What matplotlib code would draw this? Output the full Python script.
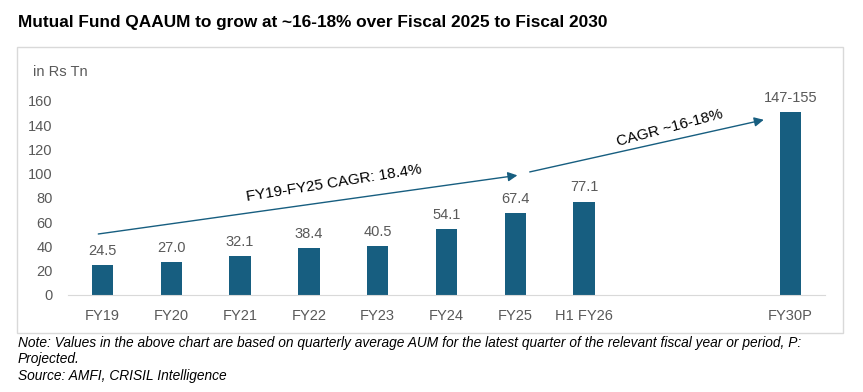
import matplotlib.pyplot as plt
from matplotlib.patches import Rectangle

plt.rcParams['font.family'] = ['Liberation Sans', 'DejaVu Sans']

categories = ["FY19", "FY20", "FY21", "FY22", "FY23", "FY24", "FY25", "H1 FY26", "FY30P"]
positions = [0, 1, 2, 3, 4, 5, 6, 7, 10]
values = [24.5, 27.0, 32.1, 38.4, 40.5, 54.1, 67.4, 77.1, 151]
labels = ["24.5", "27.0", "32.1", "38.4", "40.5", "54.1", "67.4", "77.1", "147-155"]
yticks = [0, 20, 40, 60, 80, 100, 120, 140, 160]

bar_color = "#175e80"
grey = "#595959"

W, H = 863, 392
fig = plt.figure(figsize=(W / 100, H / 100), dpi=100)

# outer frame
fig.patches.append(Rectangle((17 / W, 1 - 333 / H), (843 - 17) / W, (333 - 47) / H,
                             transform=fig.transFigure, fill=False,
                             edgecolor="#d9d9d9", linewidth=1))

fig.text(18 / W, 1 - 22 / H, "Mutual Fund QAAUM to grow at ~16-18% over Fiscal 2025 to Fiscal 2030",
         fontsize=12.4, fontweight="bold", va="center", ha="left", color="black")

ax = fig.add_axes([68 / W, 1 - 295 / H, (825 - 68) / W, (295 - 101) / H])
ax.bar(positions, values, width=0.31, color=bar_color)
for x, v, lab in zip(positions, values, labels):
    ax.text(x, v + 6, lab, ha="center", va="bottom", fontsize=10.5, color=grey)

ax.set_xlim(-0.5, 10.5)
ax.set_ylim(0, 160)
ax.set_yticks(yticks)
ax.set_xticks(positions)
ax.set_xticklabels(categories)
ax.tick_params(axis="both", length=0, labelsize=10.5, labelcolor=grey)
ax.tick_params(axis="x", pad=10)
ax.tick_params(axis="y", pad=11)
for s in ["top", "right", "left"]:
    ax.spines[s].set_visible(False)
ax.spines["bottom"].set_color("#d9d9d9")
ax.patch.set_alpha(0)

# CAGR arrows
ax.annotate("", xy=(6.07, 99), xytext=(-0.1, 50),
            arrowprops=dict(arrowstyle="-|>", color=bar_color, lw=1, mutation_scale=14))
ax.annotate("", xy=(9.65, 145), xytext=(6.17, 101),
            arrowprops=dict(arrowstyle="-|>", color=bar_color, lw=1, mutation_scale=14))
ax.text(3.37, 92, "FY19-FY25 CAGR: 18.4%", rotation=9, ha="center", va="center",
        fontsize=11, color="black")
ax.text(8.25, 138, "CAGR ~16-18%", rotation=15, ha="center", va="center",
        fontsize=11, color="black")

fig.text(33 / W, 1 - 72 / H, "in Rs Tn", fontsize=10.5, color=grey, va="center", ha="left")

fig.text(18 / W, 1 - 336 / H,
         "Note: Values in the above chart are based on quarterly average AUM for the latest quarter of the relevant fiscal year or period, P:\nProjected.\nSource: AMFI, CRISIL Intelligence",
         fontsize=9.9, style="italic", va="top", ha="left", color="black", linespacing=1.22)

fig.savefig("out.png", dpi=100)
